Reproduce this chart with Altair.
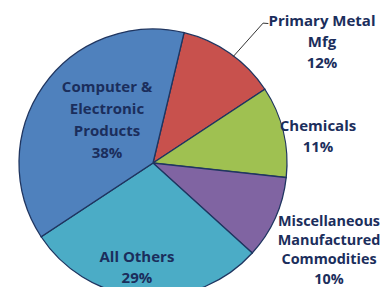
import altair as alt
import pandas as pd

# data
categories = ["Primary Metal Mfg", "Chemicals", "Miscellaneous Manufactured Commodities",
              "All Others", "Computer & Electronic Products"]
shares = [12, 11, 10, 29, 38]
label_text = ["Primary Metal\nMfg\n12%", "Chemicals\n11%",
              "Miscellaneous\nManufactured\nCommodities\n10%", "All Others\n29%",
              "Computer &\nElectronic\nProducts\n38%"]
colors = ["#C8514D", "#9FC151", "#8064A2", "#4BACC6", "#4F81BD"]

# layout (label placement of first line, polar around pie centre)
label_angle = [49.96, 77.36, 108.5, 189.7, 328.8]
label_radius = [220.7, 169.1, 185.6, 95.35, 88.8]
label_line_height = [21, 21, 19.3, 21, 22]
label_font_size = {21: 15, 22: 15, 19.3: 14.4}
leader_angle = [37.0, 38.2, 39.6]
leader_radius = [133, 178, 181]

CX, CY, R = 145, 155, 134
START = 0.234
TWO_PI = 6.283185307

df = pd.DataFrame({"cat": categories, "share": shares, "order": list(range(len(shares)))})
lab = pd.DataFrame({"cat": categories, "text": label_text, "ang": label_angle,
                    "r": label_radius, "lh": label_line_height})
lead = pd.DataFrame({"i": list(range(3)), "ang": leader_angle, "r": leader_radius})

pie = alt.Chart(df).mark_arc(radius=R, stroke="#1F3560", strokeWidth=1.3).encode(
    theta=alt.Theta("share:Q", stack=True, scale=alt.Scale(range=[START, START + TWO_PI])),
    order=alt.Order("order:Q"),
    color=alt.Color("cat:N", scale=alt.Scale(domain=categories, range=colors), legend=None),
    x=alt.value(CX), y=alt.value(CY),
)

polar = {
    "px": f"{CX} + datum.r * sin(datum.ang * PI / 180)",
    "py": f"{CY} - datum.r * cos(datum.ang * PI / 180)",
}

label_layers = []
for lh in sorted(set(label_line_height)):
    label_layers.append(
        alt.Chart(lab).transform_filter(f"datum.lh == {lh}").transform_calculate(**polar)
        .mark_text(font="Open Sans", fontSize=label_font_size[lh], fontWeight="bold",
                   color="#1B2E5C", lineBreak="\n", lineHeight=lh,
                   align="center", baseline="middle")
        .encode(x=alt.X("px:Q", scale=None), y=alt.Y("py:Q", scale=None), text="text:N")
    )

leader = alt.Chart(lead).transform_calculate(**polar).mark_line(
    color="#333333", strokeWidth=1).encode(
    x=alt.X("px:Q", scale=None),
    y=alt.Y("py:Q", scale=None),
    order="i:Q",
)

chart = alt.layer(pie, leader, *label_layers).resolve_scale(theta="independent").properties(
    width=373, height=279, padding=0, autosize="none"
).configure_view(stroke=None)

chart.save("out.html", embed_options={"renderer": "svg", "actions": False})
